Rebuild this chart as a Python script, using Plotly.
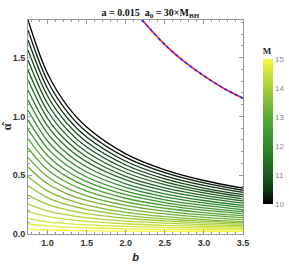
import plotly.graph_objects as go
from plotly.colors import sample_colorscale

# ---- data ----
b_pts = [0.75, 1.0, 1.25, 1.5, 2.0, 2.5, 3.0, 3.5]

M_levels = [10.0, 10.22, 10.43, 10.65, 10.87, 11.09, 11.30, 11.52, 11.74, 11.96, 12.17, 12.39,
            12.61, 12.83, 13.04, 13.26, 13.48, 13.70, 13.91, 14.13, 14.35, 14.57, 14.78, 15.0]

alpha_curves = [
    [1.82, 1.365, 1.092, 0.910, 0.682, 0.546, 0.455, 0.390],
    [1.735, 1.301, 1.041, 0.868, 0.651, 0.521, 0.434, 0.372],
    [1.65, 1.238, 0.990, 0.825, 0.619, 0.495, 0.413, 0.354],
    [1.565, 1.174, 0.939, 0.782, 0.587, 0.469, 0.391, 0.335],
    [1.48, 1.110, 0.888, 0.740, 0.555, 0.444, 0.370, 0.317],
    [1.395, 1.046, 0.837, 0.698, 0.523, 0.419, 0.349, 0.299],
    [1.31, 0.983, 0.786, 0.655, 0.491, 0.393, 0.328, 0.281],
    [1.225, 0.919, 0.735, 0.613, 0.460, 0.368, 0.307, 0.263],
    [1.14, 0.855, 0.684, 0.570, 0.427, 0.342, 0.285, 0.244],
    [1.055, 0.791, 0.633, 0.527, 0.396, 0.316, 0.264, 0.226],
    [0.97, 0.728, 0.582, 0.485, 0.364, 0.291, 0.243, 0.208],
    [0.89, 0.668, 0.534, 0.445, 0.334, 0.267, 0.223, 0.191],
    [0.81, 0.608, 0.486, 0.405, 0.304, 0.243, 0.203, 0.174],
    [0.73, 0.547, 0.438, 0.365, 0.273, 0.219, 0.182, 0.156],
    [0.65, 0.487, 0.390, 0.325, 0.244, 0.195, 0.162, 0.139],
    [0.57, 0.427, 0.342, 0.285, 0.214, 0.171, 0.142, 0.122],
    [0.49, 0.367, 0.294, 0.245, 0.184, 0.147, 0.123, 0.105],
    [0.41, 0.310, 0.250, 0.210, 0.159, 0.129, 0.109, 0.095],
    [0.33, 0.252, 0.205, 0.173, 0.134, 0.111, 0.095, 0.084],
    [0.255, 0.197, 0.162, 0.139, 0.109, 0.092, 0.080, 0.072],
    [0.19, 0.149, 0.124, 0.107, 0.087, 0.074, 0.066, 0.060],
    [0.13, 0.104, 0.088, 0.077, 0.064, 0.056, 0.051, 0.047],
    [0.085, 0.069, 0.059, 0.053, 0.044, 0.040, 0.036, 0.034],
    [0.04, 0.034, 0.030, 0.027, 0.024, 0.022, 0.021, 0.020],
]

limit_b = [2.21, 2.5, 2.75, 3.0, 3.25, 3.5]
limit_alpha = [1.82, 1.61, 1.465, 1.345, 1.24, 1.155]

x_ticks = [1.0, 1.5, 2.0, 2.5, 3.0, 3.5]
y_ticks = [0.0, 0.5, 1.0, 1.5]
cbar_ticks = [10, 11, 12, 13, 14, 15]

# ---- styling ----
avocado = [[0.0, '#000000'], [0.1, '#123a14'], [0.2, '#1b5a1e'], [0.4, '#2c8d2d'],
           [0.6, '#5caa35'], [0.8, '#a8cd3c'], [1.0, '#f7f73e']]
m_min, m_max = 10.0, 15.0

fig = go.Figure()
for m, ys in zip(M_levels, alpha_curves):
    col = sample_colorscale(avocado, [(m - m_min) / (m_max - m_min)])[0]
    fig.add_trace(go.Scatter(x=b_pts, y=ys, mode='lines', line=dict(color=col, width=1.3, shape='spline'),
                             showlegend=False, hoverinfo='skip'))

fig.add_trace(go.Scatter(x=limit_b, y=limit_alpha, mode='lines',
                         line=dict(color='#ff1a1a', width=1.6, shape='spline'), showlegend=False))
fig.add_trace(go.Scatter(x=limit_b, y=limit_alpha, mode='lines',
                         line=dict(color='#2a2aff', width=1.6, dash='3px,3px', shape='spline'), showlegend=False))

# colorbar carrier
fig.add_trace(go.Scatter(x=[None], y=[None], mode='markers', showlegend=False,
                         marker=dict(color=[m_min, m_max], cmin=m_min, cmax=m_max, colorscale=avocado,
                                     showscale=True,
                                     colorbar=dict(x=1.0916, xanchor='left', xpad=0,
                                                   y=0.888, yanchor='top', ypad=0,
                                                   len=160, lenmode='pixels', thickness=10,
                                                   outlinewidth=0, tickvals=cbar_ticks,
                                                   ticks='', ticklabelposition='outside',
                                                   tickfont=dict(size=8, color='#888888',
                                                                 family='Liberation Sans'),
                                                   title=dict(text='<b>M</b>', side='top',
                                                              font=dict(size=9, family='Liberation Serif',
                                                                        color='#222222'))))))

axis_common = dict(showgrid=False, zeroline=False, showline=True, linecolor='#999999', linewidth=1,
                   mirror='allticks', ticks='inside', ticklen=4, tickcolor='#999999',
                   tickfont=dict(size=9, family='Liberation Sans', color='#333333', weight='bold'))

fig.update_layout(
    width=289, height=267,
    margin=dict(l=28, r=46, t=20, b=33, autoexpand=False),
    plot_bgcolor='white', paper_bgcolor='white',
    title=dict(text='<b>a = 0.015  a<sub>0</sub> = 30×M<sub>BH</sub></b>', x=0.52, xanchor='center',
               y=0.952, yanchor='middle', font=dict(size=10, family='Liberation Serif', color='#111111')),
    xaxis=dict(range=[0.75, 3.5], tickvals=x_ticks, ticktext=[f'{v:.1f}' for v in x_ticks],
               minor=dict(dtick=0.1, ticklen=2, tickcolor='#999999', ticks='inside'),
               title=dict(text='<b><i>b</i></b>', font=dict(size=11, family='Liberation Sans', color='#222222'),
                          standoff=6),
               **axis_common),
    yaxis=dict(range=[0, 1.82], tickvals=y_ticks, ticktext=[f'{v:.1f}' for v in y_ticks],
               minor=dict(dtick=0.1, ticklen=2, tickcolor='#999999', ticks='inside'),
               title=dict(text='<b>α\u0302</b>', font=dict(size=12, family='Liberation Serif', color='#222222'),
                          standoff=2),
               **axis_common),
)

fig.write_html('out.html', config={'displayModeBar': False},
               post_script="document.body.style.margin='0';document.body.style.overflow='hidden';")
